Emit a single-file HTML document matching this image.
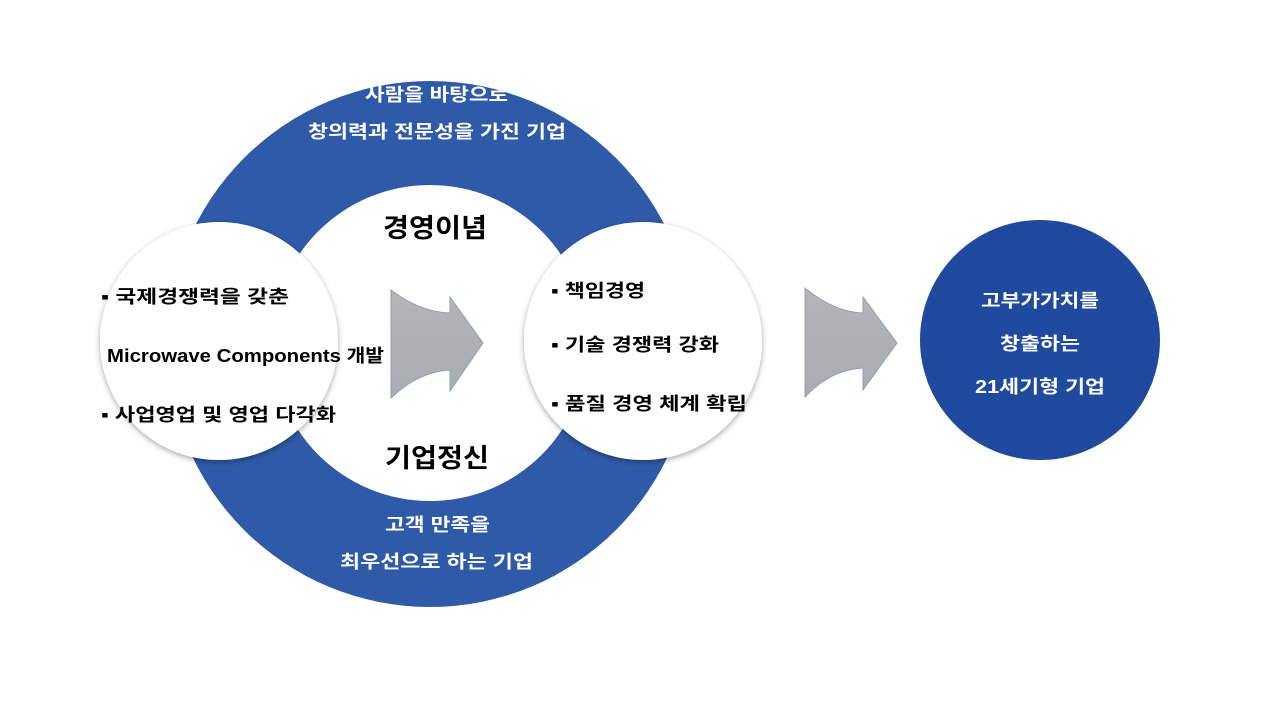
<!DOCTYPE html>
<html><head><meta charset="utf-8"><style>
body{margin:0;width:1280px;height:720px;background:#fff;overflow:hidden}
svg text{font-family:"Liberation Sans","Noto Sans CJK KR",sans-serif;font-weight:bold}
</style></head><body>
<svg width="1280" height="720" viewBox="0 0 1280 720">
<defs>
<filter id="sh" x="-20%" y="-20%" width="140%" height="140%"><feDropShadow dx="0" dy="2" stdDeviation="3" flood-color="#000" flood-opacity="0.35"/></filter>
<linearGradient id="ag" x1="0" y1="0" x2="0" y2="1"><stop offset="0" stop-color="#b3b5b8"/><stop offset="1" stop-color="#a9acb0"/></linearGradient>
</defs>
<circle cx="430" cy="344" r="263" fill="#2f5aa8"/>
<circle cx="430" cy="343" r="158" fill="#fff"/>
<circle cx="219" cy="341" r="119" fill="#fff" filter="url(#sh)"/>
<circle cx="643" cy="341" r="119" fill="#fff" filter="url(#sh)"/>
<circle cx="1040" cy="340" r="120" fill="#1f4a9e"/>
<g fill="url(#ag)" stroke="#8fa0b8" stroke-width="1">
<path d="M391,290 Q420,312 450,313 L450,297 L483,343 L450,391 L450,370 Q418,372 391,398 Z"/>
<path d="M805,288 Q834,312 863,313 L863,297 L897,343 L863,390 L863,368 Q830,370 805,397 Z"/>
</g>
<g fill="#fff" font-size="18" lengthAdjust="spacingAndGlyphs">
<text x="365" y="101" textLength="143" lengthAdjust="spacingAndGlyphs">사람을 바탕으로</text>
<text x="308" y="138" textLength="258" lengthAdjust="spacingAndGlyphs">창의력과 전문성을 가진 기업</text>
<text x="385" y="531" textLength="105" lengthAdjust="spacingAndGlyphs">고객 만족을</text>
<text x="340" y="568" textLength="193" lengthAdjust="spacingAndGlyphs">최우선으로 하는 기업</text>
<text x="981" y="307" textLength="118" lengthAdjust="spacingAndGlyphs">고부가가치를</text>
<text x="1000" y="350" textLength="80" lengthAdjust="spacingAndGlyphs">창출하는</text>
<text x="975" y="393" textLength="130" lengthAdjust="spacingAndGlyphs">21세기형 기업</text>
</g>
<g fill="#000" font-size="26">
<text x="383" y="237" textLength="104" lengthAdjust="spacingAndGlyphs">경영이념</text>
<text x="385" y="467" textLength="104" lengthAdjust="spacingAndGlyphs">기업정신</text>
</g>
<g fill="#000" font-size="18">
<text x="101" y="303" textLength="188" lengthAdjust="spacingAndGlyphs">▪ 국제경쟁력을  갖춘</text>
<text x="107" y="362" textLength="277" lengthAdjust="spacingAndGlyphs">Microwave Components 개발</text>
<text x="101" y="421" textLength="235" lengthAdjust="spacingAndGlyphs">▪ 사업영업 및 영업 다각화</text>
<text x="551" y="297" textLength="94" lengthAdjust="spacingAndGlyphs">▪ 책임경영</text>
<text x="551" y="351" textLength="168" lengthAdjust="spacingAndGlyphs">▪ 기술 경쟁력 강화</text>
<text x="551" y="410" textLength="196" lengthAdjust="spacingAndGlyphs">▪ 품질 경영 체계 확립</text>
</g>
</svg>
</body></html>
